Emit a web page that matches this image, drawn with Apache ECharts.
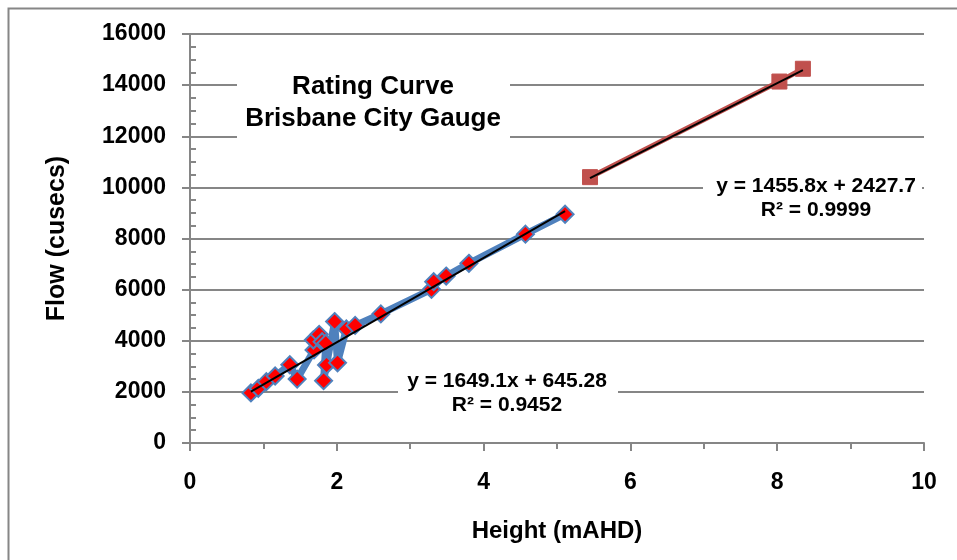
<!DOCTYPE html>
<html>
<head>
<meta charset="utf-8">
<script src="https://cdn.jsdelivr.net/npm/echarts@6/dist/echarts.min.js"></script>
<style>
html,body{margin:0;padding:0;background:#fff;}
#main{width:957px;height:560px;}
</style>
</head>
<body>
<div id="main"></div>
<script>
// gauge readings (height mAHD, flow cusecs)
var heights = [0.83, 0.93, 1.04, 1.16, 1.36, 1.46, 1.69, 1.68, 1.76, 1.80, 1.85, 1.82, 1.86, 1.97, 2.01, 2.13, 2.25, 2.60, 3.29, 3.32, 3.49, 3.80, 4.57, 5.11];
var flows   = [1960, 2140, 2400, 2620, 3060, 2500, 3640, 4030, 4250, 3960, 3900, 2440, 3050, 4750, 3140, 4460, 4600, 5050, 6010, 6310, 6530, 7030, 8170, 8950];

// flood points
var heights2 = [5.45, 8.03, 8.35];
var flows2   = [10400, 14140, 14640];

// trendline equations shown on the chart
var trend1 = {slope: 1649.1, icept: 645.28, label: 'y = 1649.1x + 645.28', r2: 'R² = 0.9452'};
var trend2 = {slope: 1455.8, icept: 2427.7, label: 'y = 1455.8x + 2427.7', r2: 'R² = 0.9999'};

var xTicks = [0, 10, 2];
var yTicks = [0, 16000, 2000];

function pairs(xs, ys){
	var out = [];
	for(var i = 0; i < xs.length; i++){
		out.push([xs[i], ys[i]]);
	}
	return out;
}
function trendLine(t, xs){
	var lo = Math.min.apply(null, xs), hi = Math.max.apply(null, xs);
	return [[lo, t.slope*lo + t.icept], [hi, t.slope*hi + t.icept]];
}

var font = 'Liberation Sans, Arial, sans-serif';
var gray = '#868686';

var myChart = echarts.init(document.getElementById('main'));
var option = {
	animation: false,
	backgroundColor: '#fff',
	grid: {left: 190, right: 33, top: 34, bottom: 117},
	xAxis: [{
		type: 'value', min: xTicks[0], max: xTicks[1], interval: xTicks[2],
		name: 'Height (mAHD)', nameLocation: 'middle', nameGap: 76,
		nameTextStyle: {fontFamily: font, fontWeight: 'bold', fontSize: 24, color: '#000'},
		axisLine: {lineStyle: {color: gray, width: 2}},
		axisTick: {show: true, inside: false, length: 8, lineStyle: {color: gray, width: 2}},
		axisLabel: {fontFamily: font, fontWeight: 'bold', fontSize: 23, color: '#000', margin: 28},
		splitLine: {show: false}
	},{
		type: 'value', min: xTicks[0], max: xTicks[1], interval: 1,
		axisLine: {show: false},
		axisTick: {show: true, inside: true, length: 6, lineStyle: {color: gray, width: 2}},
		axisLabel: {show: false},
		splitLine: {show: false}
	}],
	yAxis: [{
		type: 'value', min: yTicks[0], max: yTicks[1], interval: yTicks[2],
		name: 'Flow (cusecs)', nameLocation: 'middle', nameGap: 120,
		nameTextStyle: {fontFamily: font, fontWeight: 'bold', fontSize: 25, color: '#000'},
		axisLine: {show: true, lineStyle: {color: gray, width: 2}},
		axisTick: {show: true, inside: false, length: 8, lineStyle: {color: gray, width: 2}},
		axisLabel: {fontFamily: font, fontWeight: 'bold', fontSize: 23, color: '#000', margin: 24,
			formatter: function(v){ return String(v); }},
		splitLine: {show: true, lineStyle: {color: gray, width: 2}}
	},{
		type: 'value', min: yTicks[0], max: yTicks[1], interval: 500, position: 'left',
		axisLine: {show: false},
		axisTick: {show: true, inside: true, length: 6, lineStyle: {color: gray, width: 2}},
		axisLabel: {show: false},
		splitLine: {show: false}
	}],
	series: [{
		name: 'gauge',
		type: 'line',
		data: pairs(heights, flows),
		lineStyle: {color: '#4f81bd', width: 7},
		symbol: 'diamond',
		symbolSize: 17,
		itemStyle: {color: '#ff0000', borderColor: '#4f81bd', borderWidth: 2},
		z: 2
	},{
		name: 'flood',
		type: 'line',
		data: pairs(heights2, flows2),
		lineStyle: {color: '#c0504d', width: 5},
		symbol: 'rect',
		symbolSize: 15,
		itemStyle: {color: '#c0504d', borderColor: '#c0504d', borderWidth: 1},
		z: 2
	},{
		name: 'trend1',
		type: 'line',
		data: trendLine(trend1, heights),
		lineStyle: {color: '#000', width: 2},
		showSymbol: false,
		symbol: 'none',
		z: 5
	},{
		name: 'trend2',
		type: 'line',
		data: trendLine(trend2, heights2),
		lineStyle: {color: '#000', width: 2},
		showSymbol: false,
		symbol: 'none',
		z: 5
	}],
	graphic: [{
		type: 'rect', left: 6, top: 6, z: -10, silent: true,
		shape: {width: 960, height: 560},
		style: {fill: 'none', stroke: gray, lineWidth: 2}
	},{
		type: 'rect', z: 10, shape: {x: 237, y: 62, width: 273, height: 77},
		style: {fill: '#fff'}
	},{
		type: 'text', z: 11, x: 373, y: 103,
		style: {text: 'Rating Curve\nBrisbane City Gauge', align: 'center', verticalAlign: 'middle',
			fontFamily: font, fontWeight: 'bold', fontSize: 26, lineHeight: 32, fill: '#000'}
	},{
		type: 'rect', z: 10, shape: {x: 703, y: 174, width: 219, height: 48},
		style: {fill: '#fff'}
	},{
		type: 'text', z: 11, x: 816, y: 198,
		style: {text: trend2.label + '\n' + trend2.r2, align: 'center', verticalAlign: 'middle',
			fontFamily: font, fontWeight: 'bold', fontSize: 21, lineHeight: 24, fill: '#000'}
	},{
		type: 'rect', z: 10, shape: {x: 398, y: 369, width: 220, height: 47},
		style: {fill: '#fff'}
	},{
		type: 'text', z: 11, x: 507, y: 393,
		style: {text: trend1.label + '\n' + trend1.r2, align: 'center', verticalAlign: 'middle',
			fontFamily: font, fontWeight: 'bold', fontSize: 21, lineHeight: 24, fill: '#000'}
	}]
};
myChart.setOption(option, true);
</script>
</body>
</html>
